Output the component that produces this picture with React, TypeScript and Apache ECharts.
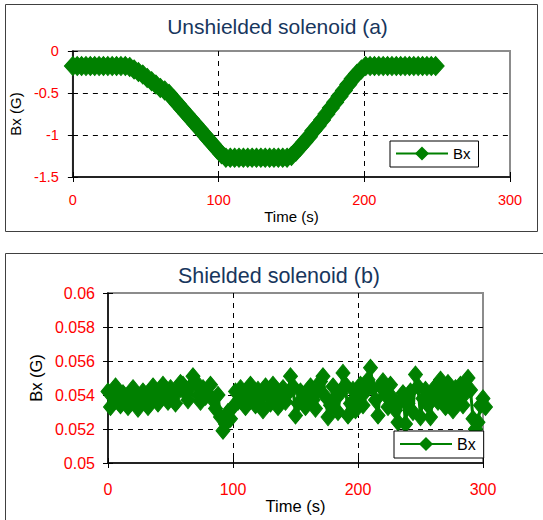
import React, { useEffect, useRef } from "react";
import * as echarts from "echarts";

// ---- Chart (a): unshielded solenoid ----
const titleA = "Unshielded solenoid (a)";
const timeA = [
  0, 3, 6, 9, 12, 15, 18, 21, 24, 27, 30, 33, 36,
  39, 42, 45, 48, 51, 54, 57, 60, 63, 66, 69, 72, 75, 78, 81, 84, 87, 90, 93, 96, 99, 102, 105,
  108, 111, 114, 117, 120, 123, 126, 129, 132, 135, 138, 141, 144, 147,
  150, 153, 156, 159, 162, 165, 168, 171, 174, 177, 180, 183, 186, 189, 192, 195, 198, 201,
  204, 207, 210, 213, 216, 219, 222, 225, 228, 231, 234, 237, 240, 243, 246, 249,
];
const bxA = [
  -0.18, -0.18, -0.18, -0.18, -0.18, -0.18, -0.18, -0.18, -0.18, -0.18, -0.18, -0.18, -0.18,
  -0.19, -0.22, -0.25, -0.28, -0.32, -0.36, -0.4, -0.44, -0.47, -0.51, -0.57, -0.63, -0.69, -0.75, -0.81, -0.87, -0.93, -0.99, -1.05, -1.11, -1.17, -1.23, -1.27,
  -1.27, -1.27, -1.27, -1.27, -1.27, -1.27, -1.27, -1.27, -1.27, -1.27, -1.27, -1.27, -1.27, -1.27,
  -1.25, -1.2, -1.14, -1.08, -1.02, -0.95, -0.89, -0.82, -0.75, -0.68, -0.61, -0.54, -0.47, -0.4, -0.33, -0.27, -0.22, -0.18,
  -0.18, -0.18, -0.18, -0.18, -0.18, -0.18, -0.18, -0.18, -0.18, -0.18, -0.18, -0.18, -0.18, -0.18, -0.18, -0.18,
];
const xRangeA = [0, 300, 100]; // min, max, interval
const yRangeA = [-1.5, 0, 0.5];

// ---- Chart (b): shielded solenoid ----
const titleB = "Shielded solenoid (b)";
const timeB = [
  0, 2, 4, 6, 8, 10, 12, 14, 16, 18,
  20, 22, 24, 26, 28, 30, 32, 34, 36, 38,
  40, 42, 44, 46, 48, 50, 52, 54, 56, 58,
  60, 62, 64, 66, 68, 70, 72, 74, 76, 78,
  80, 82, 84, 86, 88, 90, 92, 94, 96, 98,
  100, 102, 104, 106, 108, 110, 112, 114, 116, 118,
  120, 122, 124, 126, 128, 130, 132, 134, 136, 138,
  140, 142, 144, 146, 148, 150, 152, 154, 156, 158,
  160, 162, 164, 166, 168, 170, 172, 174, 176, 178,
  180, 182, 184, 186, 188, 190, 192, 194, 196, 198,
  200, 202, 204, 206, 208, 210, 212, 214, 216, 218,
  220, 222, 224, 226, 228, 230, 232, 234, 236, 238,
  240, 242, 244, 246, 248, 250, 252, 254, 256, 258,
  260, 262, 264, 266, 268, 270, 272, 274, 276, 278,
  280, 282, 284, 286, 288, 290, 292, 294, 296, 298,
  300, 302,
];
const bxB = [
  0.0542, 0.0533, 0.054, 0.0545, 0.0536, 0.0534, 0.0541, 0.0537, 0.0533, 0.054,
  0.0544, 0.0535, 0.0532, 0.0539, 0.0542, 0.0536, 0.0533, 0.0541, 0.0545, 0.0538,
  0.0535, 0.0543, 0.0546, 0.0539, 0.0536, 0.0544, 0.054, 0.0535, 0.0542, 0.0547,
  0.0546, 0.0541, 0.0537, 0.0545, 0.0551, 0.0548, 0.054, 0.0536, 0.0544, 0.0539,
  0.0541, 0.0546, 0.0537, 0.0532, 0.054, 0.0527, 0.0519, 0.0523, 0.053, 0.0526,
  0.0533, 0.0542, 0.0536, 0.0544, 0.0538, 0.0533, 0.0541, 0.0546, 0.0537, 0.0534,
  0.0543, 0.0539, 0.0531, 0.0545, 0.054, 0.0535, 0.0546, 0.0541, 0.0533, 0.0538,
  0.0544, 0.0536, 0.0541, 0.0551, 0.0545, 0.0528, 0.0535, 0.0542, 0.0538, 0.0533,
  0.054, 0.0545, 0.0537, 0.0532, 0.0543, 0.0548, 0.0551, 0.0539, 0.0527, 0.0534,
  0.0545, 0.0538, 0.053, 0.0541, 0.0553, 0.0546, 0.0528, 0.0535, 0.0543, 0.0531,
  0.0539, 0.0546, 0.0534, 0.0542, 0.0549, 0.0556, 0.0544, 0.0537, 0.0528, 0.0545,
  0.0548, 0.054, 0.0533, 0.0546, 0.0538, 0.0531, 0.0524, 0.0536, 0.0541, 0.0523,
  0.0535, 0.0542, 0.053, 0.0552, 0.0545, 0.0527, 0.0538, 0.0543, 0.0534, 0.0527,
  0.054, 0.0545, 0.0536, 0.0549, 0.0542, 0.0533, 0.0547, 0.0539, 0.0531, 0.0544,
  0.0537, 0.0546, 0.0534, 0.0541, 0.055, 0.0543, 0.0526, 0.052, 0.0524, 0.0534,
  0.0538, 0.0533,
];
const xRangeB = [0, 300, 100];
const yRangeB = [0.05, 0.06, 0.002];

const seriesName = "Bx";
const xName = "Time (s)";
const yName = "Bx (G)";

const FONT = "'Liberation Sans', Arial, sans-serif";
const GREEN = "#008000";
const RED = "#ff0000";
const TITLE_COLOR = "#17365D";

function mainX(grid: number, r: number[], fs: number, margin: number, nameFs: number, nameGap: number) {
  return {
    type: "value",
    gridIndex: grid,
    position: "bottom",
    min: r[0],
    max: r[1],
    interval: r[2],
    axisLine: { show: true, onZero: false, lineStyle: { color: "#000", width: 1.5 } },
    axisTick: { show: true, inside: false, length: 5, lineStyle: { color: "#000", width: 1 } },
    axisLabel: { color: RED, fontSize: fs, fontFamily: FONT, margin },
    splitLine: { show: true, showMinLine: false, showMaxLine: false, lineStyle: { color: "#000", type: [5, 5], width: 1 } },
    name: xName,
    nameLocation: "middle",
    nameGap,
    nameTextStyle: { color: "#000", fontSize: nameFs, fontFamily: FONT },
  };
}
function innerX(grid: number, r: number[]) {
  return {
    type: "value",
    gridIndex: grid,
    position: "bottom",
    min: r[0],
    max: r[1],
    interval: r[2],
    axisLine: { show: false, onZero: false },
    axisTick: { show: true, inside: true, length: 5, lineStyle: { color: "#000", width: 1 } },
    axisLabel: { show: false },
    splitLine: { show: false },
  };
}
function mainY(grid: number, r: number[], fs: number, margin: number, nameFs: number, nameGap: number) {
  return {
    type: "value",
    gridIndex: grid,
    position: "left",
    min: r[0],
    max: r[1],
    interval: r[2],
    axisLine: { show: true, onZero: false, lineStyle: { color: "#000", width: 1.5 } },
    axisTick: { show: true, inside: false, length: 5, lineStyle: { color: "#000", width: 1 } },
    axisLabel: { color: RED, fontSize: fs, fontFamily: FONT, margin },
    splitLine: { show: true, showMinLine: false, showMaxLine: false, lineStyle: { color: "#000", type: [5, 5], width: 1 } },
    name: yName,
    nameLocation: "middle",
    nameGap,
    nameRotate: 90,
    nameTextStyle: { color: "#000", fontSize: nameFs, fontFamily: FONT },
  };
}
function innerY(grid: number, r: number[]) {
  return {
    type: "value",
    gridIndex: grid,
    position: "left",
    min: r[0],
    max: r[1],
    interval: r[2],
    axisLine: { show: false, onZero: false },
    axisTick: { show: true, inside: true, length: 5, lineStyle: { color: "#000", width: 1 } },
    axisLabel: { show: false },
    splitLine: { show: false },
  };
}

export default function App() {
  const ref = useRef<HTMLDivElement>(null);
  useEffect(() => {
    if (!ref.current) return;
    const chart = echarts.init(ref.current, null, { renderer: "svg" });
    const option: any = {
      animation: false,
      backgroundColor: "#fff",
      textStyle: { fontFamily: FONT },
      graphic: [
        {
          type: "rect",
          shape: { x: 5.5, y: 4.5, width: 532, height: 227 },
          style: { fill: "none", stroke: "#404040", lineWidth: 1 },
          silent: true,
        },
        {
          type: "rect",
          shape: { x: 5.5, y: 253.5, width: 545, height: 290 },
          style: { fill: "none", stroke: "#404040", lineWidth: 1 },
          silent: true,
        },
        {
          type: "text",
          x: 277.5,
          y: 26,
          style: { text: titleA, fill: TITLE_COLOR, font: `21px ${FONT}`, textAlign: "center", textVerticalAlign: "middle" },
        },
        {
          type: "text",
          x: 279,
          y: 276,
          style: { text: titleB, fill: TITLE_COLOR, font: `21.5px ${FONT}`, textAlign: "center", textVerticalAlign: "middle" },
        },
      ],
      grid: [
        { left: 67, top: 51, width: 443, height: 126, show: true, borderColor: "#8c8c8c", borderWidth: 2, backgroundColor: "transparent" },
        { left: 108, top: 293, width: 375, height: 170, show: true, borderColor: "#8c8c8c", borderWidth: 2, backgroundColor: "transparent" },
      ],
      xAxis: [
        mainX(0, xRangeA, 14.5, 15, 15, 32),
        innerX(0, xRangeA),
        mainX(1, xRangeB, 16, 18, 16.5, 34),
        innerX(1, xRangeB),
      ],
      yAxis: [
        mainY(0, yRangeA, 14.5, 14, 15, 40),
        innerY(0, yRangeA),
        mainY(1, yRangeB, 16, 13, 16.5, 64),
        innerY(1, yRangeB),
      ],
      legend: [
        {
          data: [seriesName],
          left: 390,
          top: 141,
          itemWidth: 52,
          itemHeight: 14,
          padding: [5, 8, 6, 5],
          borderColor: "#000",
          borderWidth: 1,
          backgroundColor: "#fff",
          selectedMode: false,
          textStyle: { color: "#000", fontSize: 15, fontFamily: FONT },
          z: 10,
        },
        {
          data: [seriesName],
          left: 394,
          top: 431,
          itemWidth: 52,
          itemHeight: 14,
          padding: [5, 8, 6, 5],
          borderColor: "#000",
          borderWidth: 1,
          backgroundColor: "#fff",
          selectedMode: false,
          textStyle: { color: "#000", fontSize: 16, fontFamily: FONT },
          z: 10,
        },
      ],
      series: [
        {
          type: "line",
          name: seriesName,
          xAxisIndex: 0,
          yAxisIndex: 0,
          data: timeA.map((t, i) => [t, bxA[i]]),
          symbol: "diamond",
          symbolSize: [17, 19],
          showAllSymbol: true,
          clip: false,
          itemStyle: { color: GREEN, borderColor: GREEN, borderWidth: 1 },
          lineStyle: { color: GREEN, width: 3 },
          z: 3,
        },
        {
          type: "line",
          name: seriesName,
          xAxisIndex: 2,
          yAxisIndex: 2,
          data: timeB.map((t, i) => [t, bxB[i]]),
          symbol: "diamond",
          symbolSize: [14, 17],
          showAllSymbol: true,
          clip: false,
          itemStyle: { color: GREEN, borderColor: GREEN, borderWidth: 1 },
          lineStyle: { color: GREEN, width: 3 },
          z: 3,
        },
      ],
    };
    chart.setOption(option);
    return () => chart.dispose();
  }, []);
  return (
    <div
      ref={ref}
      style={{ position: "fixed", left: 0, top: 0, width: 543, height: 520, background: "#fff" }}
    />
  );
}
